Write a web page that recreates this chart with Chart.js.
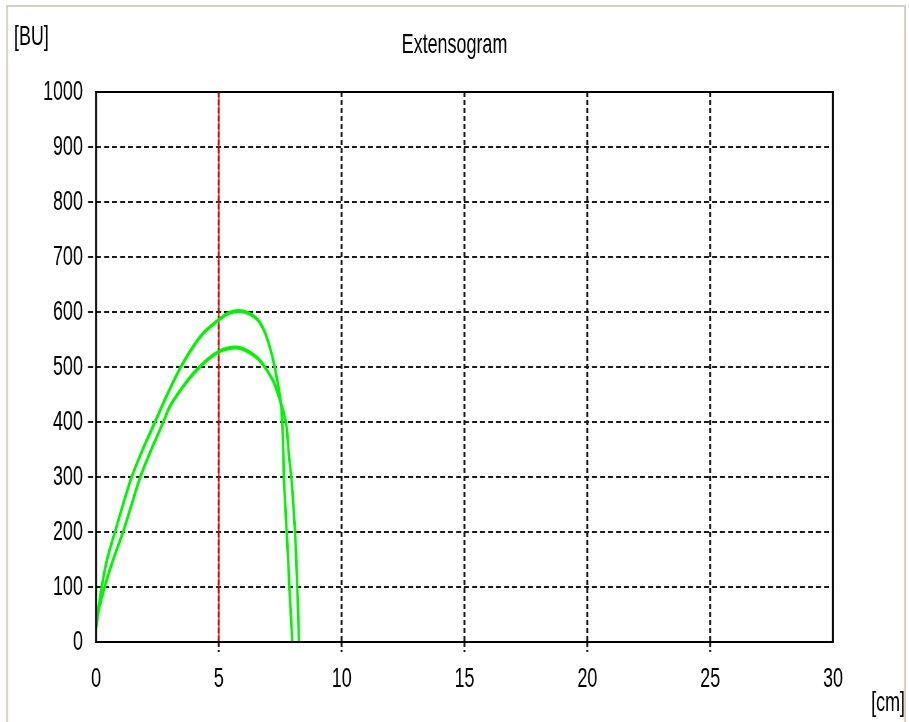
<!DOCTYPE html>
<html>
<head>
<meta charset="utf-8">
<script src="https://cdn.jsdelivr.net/npm/chart.js@4/dist/chart.umd.min.js"></script>
<style>
    body { margin: 0; background: #ffffff; }
    /* O canvas é desenhado mais largo e comprimido na horizontal,
       para imitar a fonte estreita e alta do original */
    #grafico { display: block; width: 909px; height: 722px; }
</style>
</head>
<body>
<canvas id="grafico" width="1420" height="722" style="width:909px;height:722px"></canvas>
<script>
// Curva externa (pico ~600 BU): extensão em cm e resistência em BU
const curvaAX = [0, 0.1, 0.23, 0.45, 0.77, 1.1, 1.45, 1.9, 2.4, 2.9, 3.45, 4.0, 4.36, 4.7, 5.0, 5.4, 5.8, 6.2, 6.6, 6.9, 7.2, 7.4, 7.52, 7.58, 7.62, 7.65, 7.7, 7.76, 7.82, 7.87, 7.93, 7.99];
const curvaAY = [25, 60, 100, 150, 200, 250, 300, 350, 400, 450, 500, 540, 561, 575, 586, 598, 602, 598, 585, 560, 515, 470, 435, 400, 350, 295, 250, 200, 150, 100, 50, 0];

// Curva interna (pico ~535 BU)
const curvaBX = [0, 0.1, 0.35, 0.7, 1.1, 1.45, 1.8, 2.25, 2.74, 3.0, 3.5, 4.0, 4.5, 5.0, 5.4, 5.8, 6.2, 6.6, 6.9, 7.2, 7.3, 7.5, 7.65, 7.76, 7.85, 7.96, 8.03, 8.1, 8.15, 8.19, 8.23, 8.26];
const curvaBY = [25, 55, 100, 150, 200, 250, 300, 350, 400, 428, 462, 490, 512, 528, 534, 535, 528, 515, 498, 476, 465, 438, 415, 390, 340, 295, 250, 200, 150, 100, 50, 0];

// Linha vermelha de referência em 5 cm
const marcadorX = 5;

// Limites e passos dos eixos
const eixoX = { min: 0, max: 30, passo: 5 };
const eixoY = { min: 0, max: 1000, passo: 100 };

// Textos do gráfico
const titulo = "Extensogram";
const unidadeY = "[BU]";
const unidadeX = "[cm]";

const fonte = "'Liberation Sans', Arial, sans-serif";

// Fator de compressão horizontal (largura na tela / largura interna)
const K = 909 / 1420;

/* Junta x e y em pontos */
function pontos(xs, ys) {
    return xs.map((x, i) => ({ x: x, y: ys[i] }));
}

/* Desenha a moldura externa, a borda do gráfico e as unidades */
const molduraPlugin = {
    id: "moldura",
    beforeDraw(chart) {
        const ctx = chart.ctx;
        ctx.save();
        ctx.fillStyle = "#ffffff";
        ctx.fillRect(0, 0, chart.width, chart.height);
        // Moldura bege da janela
        ctx.fillStyle = "#d4d0c8";
        ctx.fillRect(6 / K, 5, 898 / K, 2);
        ctx.fillRect(6 / K, 5, 2 / K, 720);
        ctx.fillRect(904 / K, 5, 2 / K, 720);
        ctx.restore();
    },
    afterDraw(chart) {
        const ctx = chart.ctx;
        const a = chart.chartArea;
        ctx.save();
        // Borda sólida da área de plotagem (2px na tela em todos os lados)
        ctx.fillStyle = "#000000";
        ctx.fillRect(a.left - 1 / K, a.top - 1, a.right - a.left + 2 / K, 2);
        ctx.fillRect(a.left - 1 / K, a.bottom - 1, a.right - a.left + 2 / K, 2);
        ctx.fillRect(a.left - 1 / K, a.top - 1, 2 / K, a.bottom - a.top + 2);
        ctx.fillRect(a.right - 1 / K, a.top - 1, 2 / K, a.bottom - a.top + 2);
        // Unidades dos eixos
        ctx.font = "28px " + fonte;
        ctx.textBaseline = "middle";
        ctx.textAlign = "left";
        ctx.fillText(unidadeY, 14 / K, 37);
        ctx.fillText(unidadeX, 871 / K, 703);
        ctx.restore();
    },
};

/* Esconde grade e marcas nas bordas */
function corGrade(c, min, max) {
    const v = c.tick ? c.tick.value : null;
    return v === min || v === max ? "rgba(0,0,0,0)" : "#1a1a1a";
}

const ctxGrafico = document.getElementById("grafico").getContext("2d");
new Chart(ctxGrafico, {
    type: "line",
    data: {
        datasets: [
            {
                label: "Curva A",
                data: pontos(curvaAX, curvaAY),
                borderColor: "#00f500",
                borderWidth: 4,
                pointRadius: 0,
                tension: 0.3,
                fill: false,
            },
            {
                label: "Curva B",
                data: pontos(curvaBX, curvaBY),
                borderColor: "#00f500",
                borderWidth: 4,
                pointRadius: 0,
                tension: 0.3,
                fill: false,
            },
            {
                label: "Marcador",
                data: [{ x: marcadorX, y: eixoY.min }, { x: marcadorX, y: eixoY.max }],
                borderColor: "#ff0000",
                borderWidth: 2,
                pointRadius: 0,
                fill: false,
            },
        ],
    },
    options: {
        responsive: false,
        animation: false,
        devicePixelRatio: 1,
        layout: { padding: 0 },
        plugins: {
            legend: { display: false },
            tooltip: { enabled: false },
            title: {
                display: true,
                text: titulo,
                color: "#000000",
                font: { family: fonte, size: 28, weight: "normal", lineHeight: 1.2 },
                padding: { top: 28, bottom: 30.4 },
            },
        },
        scales: {
            x: {
                type: "linear",
                min: eixoX.min,
                max: eixoX.max,
                border: { display: false, dash: [5, 3] },
                afterFit(scale) {
                    scale.height = 80;
                    scale.paddingRight = 76 / K;
                },
                ticks: {
                    stepSize: eixoX.passo,
                    color: "#000000",
                    padding: 10,
                    maxRotation: 0,
                    font: { family: fonte, size: 28 },
                    callback: (v) => String(v),
                },
                grid: {
                    color: (c) => corGrade(c, eixoX.min, eixoX.max),
                    tickColor: (c) => corGrade(c, eixoX.min, eixoX.max),
                    lineWidth: 2 / K,
                    tickWidth: 2 / K,
                    tickLength: 10,
                    tickBorderDash: [5, 3],
                },
            },
            y: {
                type: "linear",
                min: eixoY.min,
                max: eixoY.max,
                border: { display: false, dash: [5 / K, 3 / K] },
                afterFit(scale) {
                    scale.width = 96 / K;
                },
                ticks: {
                    stepSize: eixoY.passo,
                    color: "#000000",
                    padding: 8,
                    font: { family: fonte, size: 28 },
                    callback: (v) => String(v),
                },
                grid: {
                    color: (c) => corGrade(c, eixoY.min, eixoY.max),
                    tickColor: (c) => corGrade(c, eixoY.min, eixoY.max),
                    lineWidth: 2,
                    tickWidth: 2,
                    tickLength: 8 / K,
                    tickBorderDash: [5 / K, 3 / K],
                },
            },
        },
    },
    plugins: [molduraPlugin],
});
</script>
</body>
</html>
